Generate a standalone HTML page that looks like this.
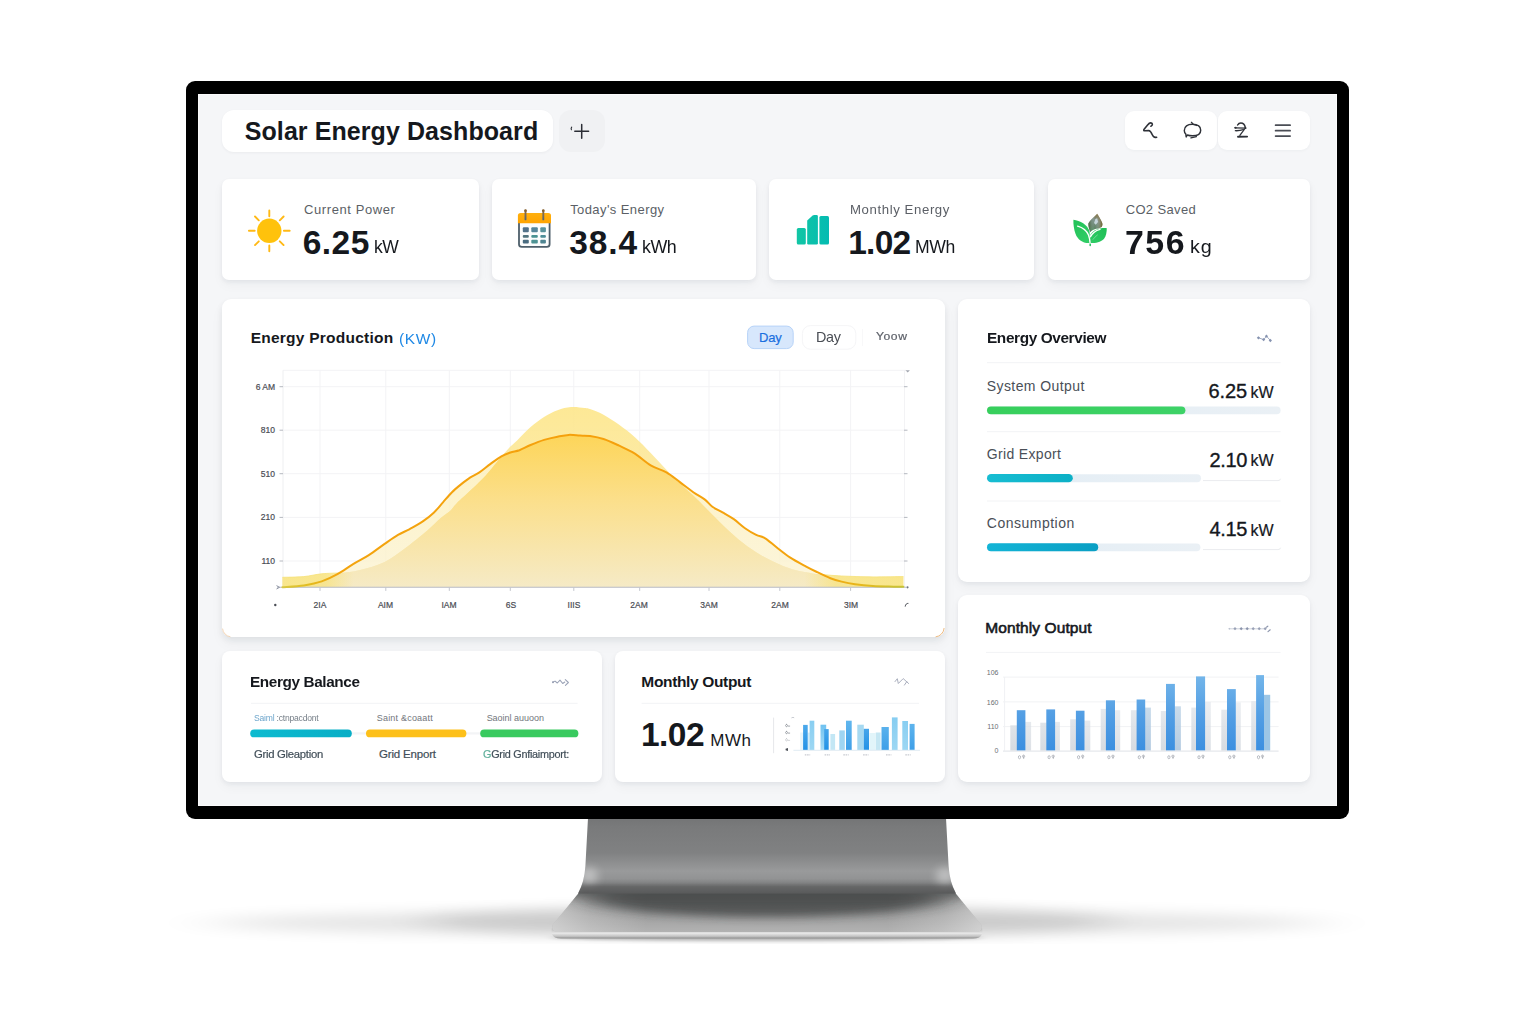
<!DOCTYPE html>
<html lang="en">
<head>
<meta charset="utf-8">
<title>Solar Energy Dashboard</title>
<style>

html,body{margin:0;padding:0;}
body{width:1536px;height:1024px;position:relative;overflow:hidden;background:#ffffff;
  font-family:"Liberation Sans",sans-serif;color:#15181d;}
.abs{position:absolute;}
.bezel{left:186px;top:81px;width:1163px;height:738px;background:#000;border-radius:9px;}
.screen{left:198px;top:94px;width:1139px;height:712px;background:#f5f6f8;box-shadow:0 0 0 1px rgba(255,255,255,.55) inset;}
.card{position:absolute;background:#fff;border-radius:7px;
  box-shadow:0 2px 4px rgba(30,40,60,.06),0 5px 12px rgba(30,40,60,.04);}
.t{position:absolute;white-space:nowrap;line-height:1;}
.b{font-weight:bold;}
.m{-webkit-text-stroke:0.35px currentColor;}
.m2{-webkit-text-stroke:0.6px currentColor;}
.m1{-webkit-text-stroke:0.2px currentColor;}
svg.gfx{position:absolute;left:0;top:0;width:1536px;height:1024px;overflow:visible;}
</style>
</head>
<body>
<svg class="gfx" viewBox="0 0 1536 1024">
<defs>
<filter id="blurA" x="-20%" y="-300%" width="140%" height="700%"><feGaussianBlur stdDeviation="34 7"/></filter>
<filter id="blurA2" x="-20%" y="-300%" width="140%" height="700%"><feGaussianBlur stdDeviation="24 6.5"/></filter>
<filter id="blurB" x="-20%" y="-200%" width="140%" height="500%"><feGaussianBlur stdDeviation="6 1.6"/></filter>
<filter id="blurC" x="-30%" y="-150%" width="160%" height="400%"><feGaussianBlur stdDeviation="18 4.5"/></filter>
<filter id="blurE" x="-10%" y="-150%" width="120%" height="400%"><feGaussianBlur stdDeviation="4 3.5"/></filter>
<filter id="blurD" x="-100%" y="-100%" width="300%" height="300%"><feGaussianBlur stdDeviation="5 5"/></filter>
<linearGradient id="neckG" x1="0" y1="819" x2="0" y2="893.5" gradientUnits="userSpaceOnUse">
<stop offset="0" stop-color="#747576"/><stop offset=".1" stop-color="#797a7b"/><stop offset=".45" stop-color="#808182"/>
<stop offset=".7" stop-color="#999a9b"/><stop offset=".8" stop-color="#929394"/><stop offset=".92" stop-color="#707172"/><stop offset="1" stop-color="#606162"/>
</linearGradient>
<linearGradient id="baseG" x1="0" y1="888" x2="0" y2="932" gradientUnits="userSpaceOnUse">
<stop offset="0" stop-color="#8a8a8a"/><stop offset=".35" stop-color="#929292"/><stop offset=".75" stop-color="#a6a6a6"/><stop offset="1" stop-color="#b2b2b2"/>
</linearGradient>
<linearGradient id="baseS" x1="552" y1="0" x2="982" y2="0" gradientUnits="userSpaceOnUse">
<stop offset="0" stop-color="#fff" stop-opacity=".42"/><stop offset=".09" stop-color="#fff" stop-opacity=".2"/>
<stop offset=".22" stop-color="#fff" stop-opacity="0"/><stop offset=".78" stop-color="#fff" stop-opacity="0"/>
<stop offset=".91" stop-color="#fff" stop-opacity=".2"/><stop offset="1" stop-color="#fff" stop-opacity=".42"/>
</linearGradient>
<linearGradient id="edgeG" x1="0" y1="930" x2="0" y2="938.5" gradientUnits="userSpaceOnUse">
<stop offset="0" stop-color="#c8c8c8"/><stop offset=".4" stop-color="#e6e6e6"/><stop offset=".75" stop-color="#c2c2c2"/><stop offset="1" stop-color="#8c8c8c"/>
</linearGradient>
<clipPath id="flClip"><rect x="0" y="840" width="1536" height="104"/></clipPath>
<clipPath id="baseClip"><path d="M582.5,888.5 L951.5,888.5 L981.5,925 Q983,931.6 976,932 L558,932 Q551,931.6 552.5,925 Z"/></clipPath>
<clipPath id="neckClip"><path d="M588,818 L946,818 L948.6,866 Q949.6,882 956,893.5 L578,893.5 Q584.4,882 585.4,866 Z"/></clipPath>
</defs>
<g clip-path="url(#flClip)"><ellipse cx="767" cy="923" rx="560" ry="13" fill="#000" opacity=".1" filter="url(#blurA)"/>
<ellipse cx="767" cy="921" rx="345" ry="16" fill="#000" opacity=".11" filter="url(#blurA2)"/></g>
<ellipse cx="767" cy="937.5" rx="215" ry="3.5" fill="#000" opacity=".22" filter="url(#blurB)"/>
<path d="M552.5,925 Q551,931.5 552,934 Q553.5,938.5 561,938.5 L973,938.5 Q980.5,938.5 982,934 Q983,931.5 981.5,925 Z" fill="url(#edgeG)"/>
<path d="M582.5,888.5 L951.5,888.5 L981.5,925 Q983,931.6 976,932 L558,932 Q551,931.6 552.5,925 Z" fill="url(#baseG)"/>
<path d="M582.5,888.5 L951.5,888.5 L981.5,925 Q983,931.6 976,932 L558,932 Q551,931.6 552.5,925 Z" fill="url(#baseS)"/>
<g clip-path="url(#baseClip)">
<ellipse cx="767" cy="898" rx="180" ry="19" fill="#2c2d2e" opacity=".62" filter="url(#blurC)"/>
<rect x="560" y="884" width="414" height="13" fill="#4a4b4c" opacity=".7" filter="url(#blurE)"/>
</g>
<path d="M588,818 L946,818 L948.6,866 Q949.6,882 956,893.5 L578,893.5 Q584.4,882 585.4,866 Z" fill="url(#neckG)"/>
<g clip-path="url(#neckClip)">
<ellipse cx="589" cy="876" rx="9" ry="8" fill="#fff" opacity=".42" filter="url(#blurD)"/>
<ellipse cx="945" cy="876" rx="9" ry="8" fill="#fff" opacity=".42" filter="url(#blurD)"/>
<rect x="578" y="885" width="380" height="12" fill="#4e4e4e" opacity=".35" filter="url(#blurB)"/>
</g>
</svg>
<div class="abs bezel"></div>
<div class="abs screen"></div>
<div class="card" style="left:222px;top:110px;width:331px;height:42px;border-radius:12px;box-shadow:0 1px 3px rgba(30,40,60,.05);"></div>
<div class="card" style="left:559px;top:110px;width:46px;height:42px;border-radius:12px;background:#f0f1f3;box-shadow:none;"></div>
<div class="card" style="left:1125px;top:111px;width:91.5px;height:39px;border-radius:9px;box-shadow:0 1px 3px rgba(30,40,60,.04);"></div>
<div class="card" style="left:1218px;top:111px;width:91.5px;height:39px;border-radius:9px;box-shadow:0 1px 3px rgba(30,40,60,.04);"></div>
<div class="card" style="left:222px;top:179px;width:257px;height:101px;"></div>
<div class="card" style="left:492px;top:179px;width:264px;height:101px;"></div>
<div class="card" style="left:769px;top:179px;width:265px;height:101px;"></div>
<div class="card" style="left:1047.5px;top:179px;width:262px;height:101px;"></div>
<div class="card" style="left:222px;top:299px;width:722.6px;height:338.2px;border-radius:9px;box-shadow:0 3px 6px rgba(30,40,60,.075),0 7px 14px rgba(30,40,60,.04);"></div>
<div class="card" style="left:958px;top:298.5px;width:351.5px;height:283.5px;border-radius:9px;"></div>
<div class="card" style="left:958px;top:595px;width:351.5px;height:187px;border-radius:9px;"></div>
<div class="card" style="left:222px;top:651px;width:380px;height:131px;border-radius:8px;"></div>
<div class="card" style="left:615px;top:650.5px;width:329.5px;height:131.5px;border-radius:8px;"></div>
<svg class="gfx" viewBox="0 0 1536 1024">
<g stroke="#f3f3f5" stroke-width="1" fill="none">
<path d="M283,370.3 H906"/>
<path d="M283,386.7 H906"/>
<path d="M283,430.2 H906"/>
<path d="M283,473.7 H906"/>
<path d="M283,517.4 H906"/>
<path d="M283,561 H906"/>
<path d="M320,370.3 V587.3"/>
<path d="M385.8,370.3 V587.3"/>
<path d="M449.3,370.3 V587.3"/>
<path d="M510.3,370.3 V587.3"/>
<path d="M573.8,370.3 V587.3"/>
<path d="M639.7,370.3 V587.3"/>
<path d="M709,370.3 V587.3"/>
<path d="M779.8,370.3 V587.3"/>
<path d="M850.6,370.3 V587.3"/>
<path d="M904.5,370.3 V587.3"/>
<path d="M283,370.3 V587.3" stroke="#eeeff1"/>
</g>
<g stroke="#b6b9c0" stroke-width="1" fill="none">
<path d="M279.5,386.7 h3.5 M904,386.7 h3.5"/>
<path d="M279.5,430.2 h3.5 M904,430.2 h3.5"/>
<path d="M279.5,473.7 h3.5 M904,473.7 h3.5"/>
<path d="M279.5,517.4 h3.5 M904,517.4 h3.5"/>
<path d="M279.5,561 h3.5 M904,561 h3.5"/>
</g>
<defs>
<linearGradient id="gU" x1="0" y1="435" x2="0" y2="587" gradientUnits="userSpaceOnUse"><stop offset="0" stop-color="#fdeeb0"/><stop offset="1" stop-color="#fbf3d4"/></linearGradient>
<linearGradient id="gG" x1="0" y1="407" x2="0" y2="587" gradientUnits="userSpaceOnUse"><stop offset="0" stop-color="#fde68a"/><stop offset=".55" stop-color="#fbe9a5"/><stop offset="1" stop-color="#f9edc0"/></linearGradient>
<linearGradient id="gI" x1="0" y1="435" x2="0" y2="587" gradientUnits="userSpaceOnUse"><stop offset="0" stop-color="#fdd456"/><stop offset=".45" stop-color="#fbdf8c"/><stop offset="1" stop-color="#f5eac6"/></linearGradient>
<linearGradient id="gT" x1="282" y1="0" x2="904" y2="0" gradientUnits="userSpaceOnUse"><stop offset="0" stop-color="#f8df5e" stop-opacity=".55"/><stop offset=".07" stop-color="#f8df5e" stop-opacity=".5"/><stop offset=".115" stop-color="#f8df5e" stop-opacity="0"/><stop offset=".84" stop-color="#f8df5e" stop-opacity="0"/><stop offset=".89" stop-color="#f8df5e" stop-opacity=".5"/><stop offset="1" stop-color="#f8df5e" stop-opacity=".55"/></linearGradient>
<linearGradient id="gL" x1="282" y1="0" x2="904" y2="0" gradientUnits="userSpaceOnUse"><stop offset="0" stop-color="#d9c62e" stop-opacity=".85"/><stop offset=".045" stop-color="#e3bb1e"/><stop offset=".09" stop-color="#f3a40e"/><stop offset=".5" stop-color="#f5a00c"/><stop offset=".87" stop-color="#f3a40e"/><stop offset=".93" stop-color="#e6b81c"/><stop offset="1" stop-color="#c4c22a" stop-opacity=".9"/></linearGradient>
<clipPath id="cU"><path d="M282.4,587.2 C285.9,586.9 297.1,586.4 303.7,585.4 C310.2,584.4 316.1,583.3 321.7,581.4 C327.3,579.5 332.2,577.1 337.4,574.2 C342.6,571.3 347.9,567.3 353.1,564.1 C358.3,560.9 363.6,558.5 368.8,555.1 C374.1,551.7 379.7,547.3 384.6,543.9 C389.5,540.5 393.9,537.3 398,534.9 C402.1,532.5 405.2,531.5 409.3,529.3 C413.4,527 418.7,524.2 422.8,521.4 C426.9,518.6 430.6,515.6 434,512.4 C437.4,509.2 440,505.7 443,502.3 C446,498.9 449,495.2 452,492.2 C455,489.2 458,486.8 461,484.4 C464,482 467,479.6 470,477.6 C473,475.7 475.6,474.9 479,472.7 C482.4,470.4 486.5,466.8 490.2,464.1 C493.9,461.4 498,458.2 501.4,456.3 C504.8,454.4 507.4,453.5 510.4,452.5 C513.4,451.5 516,451.4 519.4,450.2 C522.8,448.9 526.5,446.7 530.6,445 C534.7,443.3 539.6,441.3 544.1,439.9 C548.6,438.5 553.4,437.5 557.5,436.7 C561.6,435.9 565,435.1 568.8,434.9 C572.5,434.7 576.5,435.4 580,435.6 C583.5,435.8 586.1,435.4 590,436 C593.9,436.6 598.6,437.4 603.5,439 C608.4,440.6 614,443.3 619.2,445.7 C624.4,448.1 629.6,450.3 634.9,453.6 C640.1,456.9 645.5,462.2 650.7,465.3 C656,468.4 661.5,469.6 666.4,472.4 C671.3,475.2 675.4,478.8 679.9,482.1 C684.4,485.4 689.2,489.3 693.3,492.2 C697.4,495.1 701.4,497 704.6,499.4 C707.8,501.8 709.4,504.6 712.4,506.8 C715.4,509 718.9,510.3 722.5,512.4 C726.1,514.5 730,516.6 733.8,519.2 C737.5,521.8 741.3,525.6 745,528.2 C748.7,530.8 752.8,533.2 756.2,534.9 C759.6,536.6 761.8,536.2 765.2,538.3 C768.6,540.4 772.4,544.1 776.5,547.3 C780.6,550.5 785,554.2 789.9,557.4 C794.8,560.6 801.2,563.9 805.7,566.3 C810.2,568.7 812.8,570 816.9,572 C821,574 826.3,576.6 830.4,578.2 C834.5,579.8 837.5,580.6 841.6,581.6 C845.7,582.6 849.9,583.5 855.1,584.3 C860.3,585 867.4,585.7 873,586.1 C878.6,586.5 883.7,586.5 888.8,586.6 C893.9,586.7 901,586.8 903.4,586.8 L903.4,587.3 L282.4,587.3 Z"/></clipPath>
</defs>
<path d="M282.4,587.2 C285.9,586.9 297.1,586.4 303.7,585.4 C310.2,584.4 316.1,583.3 321.7,581.4 C327.3,579.5 332.2,577.1 337.4,574.2 C342.6,571.3 347.9,567.3 353.1,564.1 C358.3,560.9 363.6,558.5 368.8,555.1 C374.1,551.7 379.7,547.3 384.6,543.9 C389.5,540.5 393.9,537.3 398,534.9 C402.1,532.5 405.2,531.5 409.3,529.3 C413.4,527 418.7,524.2 422.8,521.4 C426.9,518.6 430.6,515.6 434,512.4 C437.4,509.2 440,505.7 443,502.3 C446,498.9 449,495.2 452,492.2 C455,489.2 458,486.8 461,484.4 C464,482 467,479.6 470,477.6 C473,475.7 475.6,474.9 479,472.7 C482.4,470.4 486.5,466.8 490.2,464.1 C493.9,461.4 498,458.2 501.4,456.3 C504.8,454.4 507.4,453.5 510.4,452.5 C513.4,451.5 516,451.4 519.4,450.2 C522.8,448.9 526.5,446.7 530.6,445 C534.7,443.3 539.6,441.3 544.1,439.9 C548.6,438.5 553.4,437.5 557.5,436.7 C561.6,435.9 565,435.1 568.8,434.9 C572.5,434.7 576.5,435.4 580,435.6 C583.5,435.8 586.1,435.4 590,436 C593.9,436.6 598.6,437.4 603.5,439 C608.4,440.6 614,443.3 619.2,445.7 C624.4,448.1 629.6,450.3 634.9,453.6 C640.1,456.9 645.5,462.2 650.7,465.3 C656,468.4 661.5,469.6 666.4,472.4 C671.3,475.2 675.4,478.8 679.9,482.1 C684.4,485.4 689.2,489.3 693.3,492.2 C697.4,495.1 701.4,497 704.6,499.4 C707.8,501.8 709.4,504.6 712.4,506.8 C715.4,509 718.9,510.3 722.5,512.4 C726.1,514.5 730,516.6 733.8,519.2 C737.5,521.8 741.3,525.6 745,528.2 C748.7,530.8 752.8,533.2 756.2,534.9 C759.6,536.6 761.8,536.2 765.2,538.3 C768.6,540.4 772.4,544.1 776.5,547.3 C780.6,550.5 785,554.2 789.9,557.4 C794.8,560.6 801.2,563.9 805.7,566.3 C810.2,568.7 812.8,570 816.9,572 C821,574 826.3,576.6 830.4,578.2 C834.5,579.8 837.5,580.6 841.6,581.6 C845.7,582.6 849.9,583.5 855.1,584.3 C860.3,585 867.4,585.7 873,586.1 C878.6,586.5 883.7,586.5 888.8,586.6 C893.9,586.7 901,586.8 903.4,586.8 L903.4,587.3 L282.4,587.3 Z" fill="url(#gU)" opacity=".8"/>
<path d="M282.4,577.3 C285.9,577.2 297.1,577.2 303.7,576.6 C310.2,576 315.6,574.4 321.7,573.8 C327.8,573.2 333.6,573.6 340,573 C346.4,572.4 352.6,571.9 360,570 C367.4,568.1 377.1,565.5 384.6,561.9 C392.1,558.3 397.7,553.6 404.8,548.4 C411.9,543.1 421.3,535.5 427.3,530.4 C433.3,525.3 437,521.2 440.7,518 C444.4,514.8 447.1,513.7 449.7,511.3 C452.3,508.9 452.8,507.1 456.5,503.4 C460.2,499.6 467.3,493.5 472.2,488.8 C477.1,484.1 481.6,479.9 485.7,475.4 C489.8,470.9 493.2,466.3 496.9,461.9 C500.6,457.5 504.7,452.5 508.1,448.9 C511.5,445.3 513.4,444.1 517.1,440.5 C520.9,436.9 526.1,431 530.6,427.1 C535.1,423.2 539.5,419.8 544,417 C548.5,414.2 553,411.8 557.5,410.2 C562,408.6 566.5,407.5 571,407.1 C575.5,406.7 581.3,407.7 584.5,408 C587.7,408.3 586.8,408 590,409.1 C593.2,410.2 598.6,412.1 603.5,414.7 C608.4,417.3 614,421.1 619.2,424.8 C624.4,428.6 629.6,432.5 634.9,437.2 C640.1,441.9 645.5,447.5 650.7,452.9 C656,458.3 661.5,464.6 666.4,469.7 C671.3,474.8 675.4,478.9 679.9,483.2 C684.4,487.5 688.8,491.3 693.3,495.6 C697.8,499.9 701.5,503.8 706.8,509 C712,514.2 718.8,521.4 724.8,527 C730.8,532.6 736.8,538.1 742.8,542.8 C748.8,547.5 754.7,551.5 760.7,555.1 C766.7,558.7 773.5,561.8 778.7,564.1 C784,566.5 787.7,567.9 792.2,569.2 C796.8,570.6 801.4,571.4 806,572.2 C810.6,573.1 814.1,573.7 820,574.3 C825.9,574.9 832.8,575.6 841.6,576 C850.4,576.4 862.7,576.8 873,576.9 C883.3,577 898.3,576.6 903.4,576.6 L903.4,587.3 L282.4,587.3 Z" fill="url(#gG)" opacity=".9"/>
<g clip-path="url(#cU)"><path d="M282.4,577.3 C285.9,577.2 297.1,577.2 303.7,576.6 C310.2,576 315.6,574.4 321.7,573.8 C327.8,573.2 333.6,573.6 340,573 C346.4,572.4 352.6,571.9 360,570 C367.4,568.1 377.1,565.5 384.6,561.9 C392.1,558.3 397.7,553.6 404.8,548.4 C411.9,543.1 421.3,535.5 427.3,530.4 C433.3,525.3 437,521.2 440.7,518 C444.4,514.8 447.1,513.7 449.7,511.3 C452.3,508.9 452.8,507.1 456.5,503.4 C460.2,499.6 467.3,493.5 472.2,488.8 C477.1,484.1 481.6,479.9 485.7,475.4 C489.8,470.9 493.2,466.3 496.9,461.9 C500.6,457.5 504.7,452.5 508.1,448.9 C511.5,445.3 513.4,444.1 517.1,440.5 C520.9,436.9 526.1,431 530.6,427.1 C535.1,423.2 539.5,419.8 544,417 C548.5,414.2 553,411.8 557.5,410.2 C562,408.6 566.5,407.5 571,407.1 C575.5,406.7 581.3,407.7 584.5,408 C587.7,408.3 586.8,408 590,409.1 C593.2,410.2 598.6,412.1 603.5,414.7 C608.4,417.3 614,421.1 619.2,424.8 C624.4,428.6 629.6,432.5 634.9,437.2 C640.1,441.9 645.5,447.5 650.7,452.9 C656,458.3 661.5,464.6 666.4,469.7 C671.3,474.8 675.4,478.9 679.9,483.2 C684.4,487.5 688.8,491.3 693.3,495.6 C697.8,499.9 701.5,503.8 706.8,509 C712,514.2 718.8,521.4 724.8,527 C730.8,532.6 736.8,538.1 742.8,542.8 C748.8,547.5 754.7,551.5 760.7,555.1 C766.7,558.7 773.5,561.8 778.7,564.1 C784,566.5 787.7,567.9 792.2,569.2 C796.8,570.6 801.4,571.4 806,572.2 C810.6,573.1 814.1,573.7 820,574.3 C825.9,574.9 832.8,575.6 841.6,576 C850.4,576.4 862.7,576.8 873,576.9 C883.3,577 898.3,576.6 903.4,576.6 L903.4,587.3 L282.4,587.3 Z" fill="url(#gI)" opacity=".95"/></g>
<path d="M282.4,577.3 C285.9,577.2 297.1,577.2 303.7,576.6 C310.2,576 315.6,574.4 321.7,573.8 C327.8,573.2 333.6,573.6 340,573 C346.4,572.4 352.6,571.9 360,570 C367.4,568.1 377.1,565.5 384.6,561.9 C392.1,558.3 397.7,553.6 404.8,548.4 C411.9,543.1 421.3,535.5 427.3,530.4 C433.3,525.3 437,521.2 440.7,518 C444.4,514.8 447.1,513.7 449.7,511.3 C452.3,508.9 452.8,507.1 456.5,503.4 C460.2,499.6 467.3,493.5 472.2,488.8 C477.1,484.1 481.6,479.9 485.7,475.4 C489.8,470.9 493.2,466.3 496.9,461.9 C500.6,457.5 504.7,452.5 508.1,448.9 C511.5,445.3 513.4,444.1 517.1,440.5 C520.9,436.9 526.1,431 530.6,427.1 C535.1,423.2 539.5,419.8 544,417 C548.5,414.2 553,411.8 557.5,410.2 C562,408.6 566.5,407.5 571,407.1 C575.5,406.7 581.3,407.7 584.5,408 C587.7,408.3 586.8,408 590,409.1 C593.2,410.2 598.6,412.1 603.5,414.7 C608.4,417.3 614,421.1 619.2,424.8 C624.4,428.6 629.6,432.5 634.9,437.2 C640.1,441.9 645.5,447.5 650.7,452.9 C656,458.3 661.5,464.6 666.4,469.7 C671.3,474.8 675.4,478.9 679.9,483.2 C684.4,487.5 688.8,491.3 693.3,495.6 C697.8,499.9 701.5,503.8 706.8,509 C712,514.2 718.8,521.4 724.8,527 C730.8,532.6 736.8,538.1 742.8,542.8 C748.8,547.5 754.7,551.5 760.7,555.1 C766.7,558.7 773.5,561.8 778.7,564.1 C784,566.5 787.7,567.9 792.2,569.2 C796.8,570.6 801.4,571.4 806,572.2 C810.6,573.1 814.1,573.7 820,574.3 C825.9,574.9 832.8,575.6 841.6,576 C850.4,576.4 862.7,576.8 873,576.9 C883.3,577 898.3,576.6 903.4,576.6 L903.4,587.3 L282.4,587.3 Z" fill="url(#gT)"/>
<path d="M282.4,577.3 C285.9,577.2 297.1,577.2 303.7,576.6 C310.2,576 315.6,574.4 321.7,573.8 C327.8,573.2 336.9,573.1 340,573" fill="none" stroke="#f6e27a" stroke-width="1" opacity=".8"/>
<path d="M820,574.3 C823.6,574.6 832.8,575.6 841.6,576 C850.4,576.4 862.7,576.8 873,576.9 C883.3,577 898.3,576.6 903.4,576.6" fill="none" stroke="#f6e27a" stroke-width="1" opacity=".8"/>
<path d="M277,587.3 H906" stroke="#b9bdc8" stroke-width="1.1" fill="none"/>
<path d="M276.5,585.6 l3,1.7 l-3,1.7" stroke="#8f95a3" stroke-width="1" fill="none"/>
<path d="M905.5,370.3 l2.2,2.2 l2.2,-2.2 z" fill="#a3a7b0"/>
<circle cx="907.5" cy="587.3" r="1.1" fill="#6f7480"/>
<g stroke="#c3c6cd" stroke-width="1" fill="none">
<path d="M320,587.3 v3.6"/>
<path d="M385.8,587.3 v3.6"/>
<path d="M449.3,587.3 v3.6"/>
<path d="M510.3,587.3 v3.6"/>
<path d="M573.8,587.3 v3.6"/>
<path d="M639.7,587.3 v3.6"/>
<path d="M709,587.3 v3.6"/>
<path d="M779.8,587.3 v3.6"/>
<path d="M850.6,587.3 v3.6"/>
</g>
<path d="M282.4,587.2 C285.9,586.9 297.1,586.4 303.7,585.4 C310.2,584.4 316.1,583.3 321.7,581.4 C327.3,579.5 332.2,577.1 337.4,574.2 C342.6,571.3 347.9,567.3 353.1,564.1 C358.3,560.9 363.6,558.5 368.8,555.1 C374.1,551.7 379.7,547.3 384.6,543.9 C389.5,540.5 393.9,537.3 398,534.9 C402.1,532.5 405.2,531.5 409.3,529.3 C413.4,527 418.7,524.2 422.8,521.4 C426.9,518.6 430.6,515.6 434,512.4 C437.4,509.2 440,505.7 443,502.3 C446,498.9 449,495.2 452,492.2 C455,489.2 458,486.8 461,484.4 C464,482 467,479.6 470,477.6 C473,475.7 475.6,474.9 479,472.7 C482.4,470.4 486.5,466.8 490.2,464.1 C493.9,461.4 498,458.2 501.4,456.3 C504.8,454.4 507.4,453.5 510.4,452.5 C513.4,451.5 516,451.4 519.4,450.2 C522.8,448.9 526.5,446.7 530.6,445 C534.7,443.3 539.6,441.3 544.1,439.9 C548.6,438.5 553.4,437.5 557.5,436.7 C561.6,435.9 565,435.1 568.8,434.9 C572.5,434.7 576.5,435.4 580,435.6 C583.5,435.8 586.1,435.4 590,436 C593.9,436.6 598.6,437.4 603.5,439 C608.4,440.6 614,443.3 619.2,445.7 C624.4,448.1 629.6,450.3 634.9,453.6 C640.1,456.9 645.5,462.2 650.7,465.3 C656,468.4 661.5,469.6 666.4,472.4 C671.3,475.2 675.4,478.8 679.9,482.1 C684.4,485.4 689.2,489.3 693.3,492.2 C697.4,495.1 701.4,497 704.6,499.4 C707.8,501.8 709.4,504.6 712.4,506.8 C715.4,509 718.9,510.3 722.5,512.4 C726.1,514.5 730,516.6 733.8,519.2 C737.5,521.8 741.3,525.6 745,528.2 C748.7,530.8 752.8,533.2 756.2,534.9 C759.6,536.6 761.8,536.2 765.2,538.3 C768.6,540.4 772.4,544.1 776.5,547.3 C780.6,550.5 785,554.2 789.9,557.4 C794.8,560.6 801.2,563.9 805.7,566.3 C810.2,568.7 812.8,570 816.9,572 C821,574 826.3,576.6 830.4,578.2 C834.5,579.8 837.5,580.6 841.6,581.6 C845.7,582.6 849.9,583.5 855.1,584.3 C860.3,585 867.4,585.7 873,586.1 C878.6,586.5 883.7,586.5 888.8,586.6 C893.9,586.7 901,586.8 903.4,586.8" fill="none" stroke="url(#gL)" stroke-width="2" stroke-linejoin="round" stroke-linecap="round"/>
<circle cx="275.3" cy="605" r="1.2" fill="#4a4d55"/>
<path d="M905.2,606.6 c.3,-2.2 1.4,-3.4 3.2,-3.2" stroke="#4a4d55" stroke-width="1" fill="none"/>
<path d="M944.1,628.4 A9,9 0 0 1 936,636.8" fill="none" stroke="#e9a55a" stroke-width="1" stroke-linecap="round" opacity=".75"/>
<path d="M222.6,629 A8.6,8.6 0 0 0 230,636.7" fill="none" stroke="#eeb273" stroke-width="1" stroke-linecap="round" opacity=".5"/>
<rect x="747.6" y="326.1" width="45.6" height="22.5" rx="6.5" fill="#d7e7fc" stroke="#b7d3f8" stroke-width="1"/>
<rect x="802.4" y="325.6" width="53.4" height="23.6" rx="8" fill="none" stroke="#f5f5f7" stroke-width="1"/>
<path d="M862.4,329 V346" stroke="#f8f8f9" stroke-width="1"/>
<g stroke="#2b2e35" stroke-width="1.5" stroke-linecap="round" fill="none"><path d="M574.8,131.3 H588.6 M581.7,124.6 V138.2"/><path d="M571.7,127.2 q-1,1.2 -.3,2.6" stroke-width="1.1"/></g>
<g stroke="#2e3138" stroke-width="1.6" stroke-linecap="round" stroke-linejoin="round" fill="none">
<path d="M1150.9,126.2 C1152.9,125.4 1152.9,123.2 1150.8,122.9 C1149.6,122.8 1148.6,123.8 1147.6,125 L1143.9,129.6 Q1143.4,130.9 1144.7,130.8 L1148.6,130.5 C1150.6,130.6 1151.4,132.6 1152.3,134.8 C1153,136.6 1154.3,137.9 1156.6,137.2"/>
<path d="M1184.3,130.4 C1184.3,126.4 1187.6,124.3 1192.2,124.3 C1197.4,124.3 1200.7,126.6 1200.7,130.2 C1200.7,133.8 1197.4,135.8 1192.6,135.8 C1190.4,135.8 1188.6,135.5 1187.4,135 L1186.2,137 L1185.8,134 C1184.8,133 1184.3,131.8 1184.3,130.4 Z" stroke-width="1.45"/>
<path d="M1191.4,122.3 L1193.4,124.4 L1196.8,125.5 M1190.9,137.9 L1196.4,136.7" stroke-width="1.25"/>
<path d="M1237.6,125 C1238.4,123.6 1239.4,122.9 1240.8,122.9 C1243.2,122.9 1244.8,124.8 1245.2,127.2" stroke-width="1.5"/>
<path d="M1234.8,127.8 L1245.8,128.1 M1235.4,130.7 C1238,130.8 1241,130.4 1243.4,129.6" stroke-width="1.35"/>
<path d="M1244.6,129 C1243,131.4 1241.2,133.4 1239.9,135.4" stroke-width="1.3"/>
<path d="M1238,136.8 L1247.1,136.6" stroke-width="1.9"/>
<circle cx="1235.7" cy="127.8" r="1" fill="#2e3138" stroke="none"/><circle cx="1245.4" cy="127.9" r="1" fill="#2e3138" stroke="none"/>
</g>
<g stroke="#4a4d55" stroke-width="1.75" stroke-linecap="round" fill="none"><path d="M1275.6,125.2 H1290.1 M1275.6,130.7 H1290.1 M1275.6,136.1 H1290.1"/></g>
<circle cx="269.3" cy="230.8" r="12.2" fill="#ffc20c"/>
<path d="M269.3,216.2 L269.3,210.4 M279.8,220.3 L283.6,216.5 M283.9,230.8 L289.7,230.8 M279.8,241.3 L283.6,245.1 M269.3,245.4 L269.3,251.2 M258.8,241.3 L255,245.1 M254.7,230.8 L248.9,230.8 M258.8,220.3 L255,216.5" stroke="#ffb916" stroke-width="1.9" stroke-linecap="round" fill="none"/>
<defs><linearGradient id="calO" x1="0" y1="212" x2="0" y2="224" gradientUnits="userSpaceOnUse"><stop offset="0" stop-color="#ffb10f"/><stop offset="1" stop-color="#ffa300"/></linearGradient><linearGradient id="calR" x1="0" y1="210" x2="0" y2="220" gradientUnits="userSpaceOnUse"><stop offset="0" stop-color="#8a6330"/><stop offset=".45" stop-color="#7d6a52"/><stop offset="1" stop-color="#4f647c"/></linearGradient></defs>
<path d="M519,221 V244.2 Q519,246.8 521.8,246.8 H546.8 Q549.6,246.8 549.6,244.2 V221 Z" fill="#fcfdfd" stroke="#4e5f6b" stroke-width="1.8"/>
<path d="M517.9,223.3 V215.6 Q517.9,212.9 520.6,212.9 H548.3 Q551,212.9 551,215.6 V223.3 Z" fill="url(#calO)"/>
<path d="M525.5,210.6 V219.4 M543.3,210.6 V219.4" stroke="url(#calR)" stroke-width="1.9" stroke-linecap="round"/>
<circle cx="525.5" cy="210.7" r="1.35" fill="#86602e"/><circle cx="543.3" cy="210.7" r="1.35" fill="#86602e"/>
<rect x="522.8" y="227.2" width="6" height="5" rx="1" fill="#52728a"/><rect x="531.3" y="227.2" width="6.5" height="5" rx="1" fill="#56869a"/><rect x="540.3" y="227.2" width="5.6" height="5" rx="1" fill="#5a939c"/><rect x="522.8" y="235" width="6" height="2.8" rx="1" fill="#52747f"/><rect x="531.3" y="235" width="6.5" height="2.8" rx="1" fill="#4a9292"/><rect x="540.3" y="235" width="5.6" height="2.8" rx="1" fill="#4f8e98"/><rect x="522.8" y="239.7" width="6" height="3.8" rx="1" fill="#4a6c80"/><rect x="531.3" y="239.7" width="6.5" height="3.8" rx="1" fill="#4e9394"/><rect x="540.3" y="239.7" width="5.6" height="3.8" rx="1" fill="#4f8592"/>
<defs><linearGradient id="barI" x1="796" y1="0" x2="829" y2="0" gradientUnits="userSpaceOnUse"><stop offset="0" stop-color="#12c6a4"/><stop offset="1" stop-color="#04bbb2"/></linearGradient></defs>
<g fill="url(#barI)"><rect x="796.8" y="228" width="9" height="16.5" rx="1.5"/><path d="M807.2,243.3 V220.4 L812.6,215.6 Q813.2,215.1 814.2,215.1 H816.6 Q817.9,215.1 817.9,216.4 V243.3 Q817.9,244.5 816.6,244.5 H808.4 Q807.2,244.5 807.2,243.3 Z"/><rect x="819.4" y="215.9" width="9.6" height="28.6" rx="1.5"/></g>
<defs><linearGradient id="lfA" x1="1073" y1="220" x2="1092" y2="244" gradientUnits="userSpaceOnUse"><stop offset="0" stop-color="#22c158"/><stop offset="1" stop-color="#33cf68"/></linearGradient><linearGradient id="lfB" x1="1107" y1="228" x2="1090" y2="244" gradientUnits="userSpaceOnUse"><stop offset="0" stop-color="#1fbe55"/><stop offset="1" stop-color="#2fcc66"/></linearGradient><linearGradient id="lfC" x1="1090" y1="232" x2="1099" y2="214" gradientUnits="userSpaceOnUse"><stop offset="0" stop-color="#3f9a55"/><stop offset=".3" stop-color="#5f8264"/><stop offset=".65" stop-color="#7f9088"/><stop offset="1" stop-color="#7a5c1c"/></linearGradient><linearGradient id="lfD" x1="1089" y1="0" x2="1102.5" y2="0" gradientUnits="userSpaceOnUse"><stop offset="0" stop-color="#4c5f3e" stop-opacity=".7"/><stop offset=".45" stop-color="#b9cfe0" stop-opacity=".0"/><stop offset="1" stop-color="#6e5a1c" stop-opacity=".95"/></linearGradient></defs>
<path d="M1097.2,213.8 C1094,216.8 1089.6,220.6 1088.4,223.6 C1088.2,226.4 1089.4,229.8 1090.2,232 C1092.4,229.8 1095.4,228.7 1098.4,228.5 L1101.6,226.9 C1102.7,225.4 1102.5,223.6 1102,222.6 C1100.8,219.6 1098.8,216.4 1097.2,213.8 Z" fill="url(#lfC)"/><path d="M1097.2,213.8 C1094,216.8 1089.6,220.6 1088.4,223.6 C1088.2,226.4 1089.4,229.8 1090.2,232 C1092.4,229.8 1095.4,228.7 1098.4,228.5 L1101.6,226.9 C1102.7,225.4 1102.5,223.6 1102,222.6 C1100.8,219.6 1098.8,216.4 1097.2,213.8 Z" fill="url(#lfD)"/>
<path d="M1095.4,219 L1097.2,218.2 L1098,222 L1095.8,224.8 L1094,223 Z" fill="#d4e3ee" opacity=".8"/>
<path d="M1073.4,219.7 C1080,220.6 1087.6,224.4 1089.6,231.4 L1090,243 C1083,243.6 1077.6,239.6 1075.6,234 C1074,229.6 1073.2,224.6 1073.4,219.7 Z" fill="url(#lfA)"/>
<path d="M1106.8,228.2 C1100,227.6 1093.4,229.8 1090.6,234.6 L1090.8,243 C1097,243.4 1102,241.6 1104.2,238.6 C1106,236 1106.8,232 1106.8,228.2 Z" fill="url(#lfB)"/>
<path d="M1090.2,245.4 V237" stroke="#27c05c" stroke-width="1.5" stroke-linecap="round"/>
<path d="M1077.6,226.2 C1082,227.4 1086.3,230 1088.5,235 C1089.5,237.6 1089.9,240.6 1090.1,243.4 M1090.5,236.8 C1092.2,233.2 1095.6,230.6 1100,229.4" stroke="#ffffff" stroke-width="1.35" fill="none" stroke-linecap="round"/>
<path d="M1093,239.4 C1094.2,237.8 1095.8,236.2 1097.4,235" stroke="#ffffff" stroke-width=".6" fill="none" stroke-linecap="round" opacity=".55"/>
<path d="M1258.5,337.8 L1263.7,339.6 L1266.5,336.2 L1270.4,340.5" stroke="#a3adc3" stroke-width="1" fill="none" stroke-linejoin="round"/>
<rect x="1257.3" y="336.7" width="2.3" height="2.3" fill="#8693b0" transform="rotate(45 1258.5 337.8)"/>
<rect x="1262.5" y="338.5" width="2.3" height="2.3" fill="#8693b0" transform="rotate(45 1263.7 339.6)"/>
<rect x="1265.3" y="335.1" width="2.3" height="2.3" fill="#8693b0" transform="rotate(45 1266.5 336.2)"/>
<rect x="1269.2" y="339.4" width="2.3" height="2.3" fill="#8693b0" transform="rotate(45 1270.4 340.5)"/>
<g stroke="#9aa2b6" stroke-width="1.05" stroke-linecap="round" stroke-linejoin="round" fill="none">
<path d="M552.6,682.3 l2.4,-1.2 l2.3,1.9 l2.7,-2.9 l2.7,3.4 l2.1,-1.5 M565.3,679.6 l3.1,2.9 l-3,2.9"/>
<circle cx="553" cy="682.2" r="1" fill="#9aa2b6" stroke="none"/>
</g>
<g stroke="#a5abbb" stroke-width=".95" stroke-linecap="round" stroke-linejoin="round" fill="none">
<path d="M895,681.6 L897.3,678.7 L898.3,683.5 L903.2,678.6 L908.6,683.5 M906.8,681.6 L904.4,685.1"/>
</g>
<path d="M1229,628.8 H1266" stroke="#c3c8d4" stroke-width=".8"/>
<rect x="1228.5" y="628" width="1.5" height="1.5" fill="#b9bfcd" transform="rotate(45 1229.3 628.8)"/>
<rect x="1233.8" y="627.6" width="2.3" height="2.3" fill="#99a1b6" transform="rotate(45 1235 628.8)"/>
<rect x="1240" y="627.6" width="2.3" height="2.3" fill="#8b94ac" transform="rotate(45 1241.2 628.8)"/>
<rect x="1246" y="627.6" width="2.3" height="2.3" fill="#8b94ac" transform="rotate(45 1247.2 628.8)"/>
<rect x="1252" y="627.6" width="2.3" height="2.3" fill="#99a1b6" transform="rotate(45 1253.2 628.8)"/>
<rect x="1258" y="627.6" width="2.3" height="2.3" fill="#99a1b6" transform="rotate(45 1259.2 628.8)"/>
<rect x="1264" y="627.6" width="2.3" height="2.3" fill="#99a1b6" transform="rotate(45 1265.2 628.8)"/>
<path d="M1266.4,627.2 l1.4,-1 M1268,631.6 l2.2,-1.8" stroke="#8d96ad" stroke-width="1.2" stroke-linecap="round" fill="none"/>
<g stroke="#f2f3f5" stroke-width="1" fill="none">
<path d="M987,362.7 H1280.6 M987,431.7 H1280.6 M987,501 H1280.6"/>
<path d="M986,652.4 H1280.6"/>
<path d="M251,703.3 H577.6 M641.6,703.3 H919"/>
<path d="M773.6,717.6 V753.2" stroke="#e6e7eb"/>
</g>
<defs><linearGradient id="pg1" x1="0" x2="1"><stop offset="0" stop-color="#37cf5c"/><stop offset="1" stop-color="#3dd267"/></linearGradient><linearGradient id="pg2" x1="0" x2="1"><stop offset="0" stop-color="#17bdd2"/><stop offset="1" stop-color="#0cb0c6"/></linearGradient><linearGradient id="pg3" x1="0" x2="1"><stop offset="0" stop-color="#13b4d6"/><stop offset="1" stop-color="#0a9fc4"/></linearGradient><linearGradient id="pgc" x1="0" x2="1"><stop offset="0" stop-color="#0dbbd0"/><stop offset="1" stop-color="#08aec6"/></linearGradient><linearGradient id="trk" x1="0" x2="1"><stop offset="0" stop-color="#e2edf5"/><stop offset="1" stop-color="#eaf0f5"/></linearGradient></defs>
<rect x="987" y="406.6" width="293.6" height="7.6" rx="3.8" fill="url(#trk)"/>
<rect x="987" y="406.4" width="198.4" height="7.9" rx="4" fill="url(#pg1)"/>
<rect x="987" y="474.2" width="214" height="8" rx="4" fill="url(#trk)"/>
<rect x="987" y="474" width="85.8" height="8.3" rx="4.2" fill="url(#pg2)"/>
<rect x="987" y="543.4" width="213.4" height="7.8" rx="3.9" fill="url(#trk)"/>
<rect x="987" y="543.2" width="111.2" height="8.1" rx="4" fill="url(#pg3)"/>
<path d="M1203,480.6 H1278 q2.4,0 2.4,-1.8 M1203,549.6 H1278 q2.4,0 2.4,-1.8" stroke="#eaecef" stroke-width="1" fill="none"/>
<path d="M252,733.4 H577" stroke="#f3f4f6" stroke-width="2.2"/>
<rect x="250.2" y="729.5" width="101.6" height="7.8" rx="3.9" fill="url(#pgc)"/>
<rect x="366" y="729.5" width="100.4" height="7.8" rx="3.9" fill="#fdc01a"/>
<rect x="480.2" y="729.5" width="98.2" height="7.8" rx="3.9" fill="#39ca5f"/>
<g stroke="#f1f2f4" stroke-width="1" fill="none"><path d="M1003,677.1 H1278.6 M1003,701.9 H1278.6 M1003,726.6 H1278.6"/><path d="M1004.6,677.1 V750.6" stroke="#f0f1f4"/></g>
<defs><linearGradient id="bb" x1="0" y1="675" x2="0" y2="751" gradientUnits="userSpaceOnUse"><stop offset="0" stop-color="#74b6ea"/><stop offset=".5" stop-color="#549fe4"/><stop offset="1" stop-color="#3b8fe0"/></linearGradient><linearGradient id="bg" x1="0" y1="690" x2="0" y2="751" gradientUnits="userSpaceOnUse"><stop offset="0" stop-color="#e9ecf0"/><stop offset="1" stop-color="#cfd5dc"/></linearGradient><linearGradient id="bl" x1="0" y1="690" x2="0" y2="751" gradientUnits="userSpaceOnUse"><stop offset="0" stop-color="#c9dcec"/><stop offset="1" stop-color="#a9c3dc"/></linearGradient></defs>
<rect x="1010.3" y="725.3" width="6.9" height="25.3" fill="url(#bg)" opacity=".85"/>
<rect x="1025.1" y="721.9" width="6" height="28.7" fill="url(#bg)" opacity=".7"/>
<rect x="1016.8" y="710.2" width="8.6" height="40.4" fill="url(#bb)"/>
<rect x="1040.3" y="722.7" width="6.4" height="27.9" fill="url(#bg)" opacity=".85"/>
<rect x="1054.8" y="721.9" width="5.1" height="28.7" fill="url(#bg)" opacity=".7"/>
<rect x="1046.3" y="709.4" width="8.8" height="41.2" fill="url(#bb)"/>
<rect x="1070.2" y="719.3" width="6.1" height="31.3" fill="url(#bg)" opacity=".85"/>
<rect x="1084.2" y="720.6" width="6.1" height="30" fill="url(#bg)" opacity=".7"/>
<rect x="1075.9" y="710.7" width="8.6" height="39.9" fill="url(#bb)"/>
<rect x="1100.7" y="708.9" width="5.6" height="41.7" fill="url(#bg)" opacity=".85"/>
<rect x="1114.7" y="710.2" width="5.5" height="40.4" fill="url(#bg)" opacity=".7"/>
<rect x="1105.9" y="700.3" width="9.1" height="50.3" fill="url(#bb)"/>
<rect x="1130.9" y="710.2" width="6.1" height="40.4" fill="url(#bg)" opacity=".85"/>
<rect x="1144.9" y="707.6" width="6" height="43" fill="url(#bl)" opacity=".85"/>
<rect x="1136.6" y="699.5" width="8.6" height="51.1" fill="url(#bb)"/>
<rect x="1160.8" y="711" width="5.6" height="39.6" fill="url(#bg)" opacity=".85"/>
<rect x="1174.6" y="706.3" width="6.3" height="44.3" fill="url(#bl)" opacity=".85"/>
<rect x="1166" y="683.9" width="8.9" height="66.7" fill="url(#bb)"/>
<rect x="1191.3" y="707.6" width="5.1" height="43" fill="url(#bg)" opacity=".85"/>
<rect x="1204.8" y="701.9" width="6" height="48.7" fill="url(#bg)" opacity=".7"/>
<rect x="1196" y="676.4" width="9.1" height="74.2" fill="url(#bb)"/>
<rect x="1221.3" y="709.7" width="6.1" height="40.9" fill="url(#bg)" opacity=".85"/>
<rect x="1235.5" y="702.4" width="5.3" height="48.2" fill="url(#bg)" opacity=".7"/>
<rect x="1227" y="689.1" width="8.8" height="61.5" fill="url(#bb)"/>
<rect x="1251.2" y="701.1" width="5.3" height="49.5" fill="url(#bg)" opacity=".85"/>
<rect x="1263.7" y="694.8" width="6.5" height="55.8" fill="#9cc6e6"/>
<rect x="1256.1" y="675.1" width="7.9" height="75.5" fill="url(#bb)"/>
<path d="M1003,751.1 H1278.6" stroke="#dfe2e7" stroke-width="1" fill="none"/>
<g fill="none" stroke="#a4a8b0" stroke-width=".75"><ellipse cx="1019.5" cy="757.2" rx="1.1" ry="1.6"/><path d="M1023.7,755.4 v3.5 M1023.6,757.6 a1.1,1.3 0 1 0 -.1,0"/></g>
<g fill="none" stroke="#a4a8b0" stroke-width=".75"><ellipse cx="1049.1" cy="757.2" rx="1.1" ry="1.6"/><path d="M1053.3,755.4 v3.5 M1053.2,757.6 a1.1,1.3 0 1 0 -.1,0"/></g>
<g fill="none" stroke="#a4a8b0" stroke-width=".75"><ellipse cx="1078.6" cy="757.2" rx="1.1" ry="1.6"/><path d="M1082.8,755.4 v3.5 M1082.7,757.6 a1.1,1.3 0 1 0 -.1,0"/></g>
<g fill="none" stroke="#a4a8b0" stroke-width=".75"><ellipse cx="1108.9" cy="757.2" rx="1.1" ry="1.6"/><path d="M1113,755.4 v3.5 M1113,757.6 a1.1,1.3 0 1 0 -.1,0"/></g>
<g fill="none" stroke="#a4a8b0" stroke-width=".75"><ellipse cx="1139.3" cy="757.2" rx="1.1" ry="1.6"/><path d="M1143.5,755.4 v3.5 M1143.4,757.6 a1.1,1.3 0 1 0 -.1,0"/></g>
<g fill="none" stroke="#a4a8b0" stroke-width=".75"><ellipse cx="1168.9" cy="757.2" rx="1.1" ry="1.6"/><path d="M1173,755.4 v3.5 M1173,757.6 a1.1,1.3 0 1 0 -.1,0"/></g>
<g fill="none" stroke="#a4a8b0" stroke-width=".75"><ellipse cx="1199" cy="757.2" rx="1.1" ry="1.6"/><path d="M1203.1,755.4 v3.5 M1203,757.6 a1.1,1.3 0 1 0 -.1,0"/></g>
<g fill="none" stroke="#a4a8b0" stroke-width=".75"><ellipse cx="1229.8" cy="757.2" rx="1.1" ry="1.6"/><path d="M1234,755.4 v3.5 M1233.9,757.6 a1.1,1.3 0 1 0 -.1,0"/></g>
<g fill="none" stroke="#a4a8b0" stroke-width=".75"><ellipse cx="1258.5" cy="757.2" rx="1.1" ry="1.6"/><path d="M1262.6,755.4 v3.5 M1262.5,757.6 a1.1,1.3 0 1 0 -.1,0"/></g>
<defs><linearGradient id="mb1" x1="0" y1="724" x2="0" y2="750" gradientUnits="userSpaceOnUse"><stop offset="0" stop-color="#4eaaeb"/><stop offset="1" stop-color="#2392e6"/></linearGradient><linearGradient id="mb2" x1="0" y1="720" x2="0" y2="750" gradientUnits="userSpaceOnUse"><stop offset="0" stop-color="#62b7ee"/><stop offset="1" stop-color="#3e9fe8"/></linearGradient><linearGradient id="mb3" x1="0" y1="717" x2="0" y2="750" gradientUnits="userSpaceOnUse"><stop offset="0" stop-color="#86cdf1"/><stop offset="1" stop-color="#9dd7f3"/></linearGradient><linearGradient id="mb4" x1="0" y1="724" x2="0" y2="750" gradientUnits="userSpaceOnUse"><stop offset="0" stop-color="#6ec1f0"/><stop offset="1" stop-color="#a9dcf5"/></linearGradient></defs>
<rect x="800.2" y="732.5" width="3.1" height="17.5" fill="#e8f5fb"/>
<rect x="807.7" y="732.6" width="2.1" height="17.4" fill="#d3ecf8"/>
<rect x="803.1" y="724.9" width="4.6" height="25.1" fill="url(#mb1)"/>
<rect x="809.6" y="720.7" width="4.7" height="29.3" fill="url(#mb3)"/>
<rect x="820.5" y="724.7" width="5.7" height="25.3" fill="url(#mb4)"/>
<rect x="824.2" y="729.1" width="4.5" height="20.8" fill="url(#mb1)"/>
<rect x="830.4" y="734" width="4.7" height="15.9" fill="#c3e7f5"/>
<rect x="839.3" y="730.4" width="5.5" height="19.6" fill="#9fd5f2"/>
<rect x="846" y="720.7" width="5.7" height="29.3" fill="url(#mb2)"/>
<rect x="857.3" y="724.7" width="6.5" height="25.3" fill="#a6d9f1"/>
<rect x="863.8" y="728.8" width="5.2" height="21.1" fill="url(#mb1)"/>
<rect x="869.5" y="733" width="5.9" height="17" fill="#e2f5fa"/>
<rect x="875.7" y="732.5" width="4.9" height="17.5" fill="#c6e7f3"/>
<rect x="881.5" y="727" width="7.3" height="23" fill="url(#mb2)"/>
<rect x="891.9" y="717.4" width="5.7" height="32.6" fill="url(#mb3)"/>
<rect x="902.3" y="721" width="5.7" height="29" fill="url(#mb3)"/>
<rect x="909.6" y="723.9" width="5" height="26" fill="url(#mb2)"/>
<path d="M793.4,750.3 H920" stroke="#dde9f2" stroke-width=".9" fill="none"/>
<g fill="none" stroke="#7d828b" stroke-width=".7" stroke-linecap="round">
<path d="M786.5,724.3 a1,1.2 0 1 0 .1,0 M788.3,726.1 h1.4" opacity="1"/>
<path d="M786.5,731.3 a1,1.2 0 1 0 .1,0 M788.3,733.1 h1.4" opacity="1"/>
<path d="M786.5,738.6 a1,1.2 0 1 0 .1,0 M788.3,740.4 h1.4" opacity="0.45"/>
</g>
<path d="M785.6,748.8 l2.4,-.9 v3.2 l-2.4,-.9 z" fill="#4d5158"/>
<path d="M791.4,717.9 l1.6,-.6 l1.2,.5" fill="none" stroke="#a5aab3" stroke-width=".6"/>
<g stroke="#b2b6be" stroke-width=".9" fill="none">
<path d="M804.8,754.9 h5.4" stroke-dasharray="1.6 .7"/>
<path d="M824.6,754.9 h5.4" stroke-dasharray="1.6 .7"/>
<path d="M843.3,754.9 h5.4" stroke-dasharray="1.6 .7"/>
<path d="M863.1,754.9 h5.4" stroke-dasharray="1.6 .7"/>
<path d="M886,754.9 h5.4" stroke-dasharray="1.6 .7"/>
<path d="M905.3,754.9 h5.4" stroke-dasharray="1.6 .7"/>
</g>
</svg>
<div class="t b" style="top:118.94px;font-size:25px;color:#15181d;letter-spacing:0.08px;left:244.75px;">Solar Energy Dashboard</div>
<div class="t" style="top:203.10px;font-size:13px;color:#5b5f66;letter-spacing:0.585px;left:304.05px;">Current Power</div>
<div class="t" style="top:203.10px;font-size:13px;color:#5b5f66;letter-spacing:0.417px;left:570.15px;">Today's Energy</div>
<div class="t" style="top:203.10px;font-size:13px;color:#5b5f66;letter-spacing:0.585px;left:849.55px;transform-origin:0 50%;transform:scaleX(1.015);">Monthly Energy</div>
<div class="t" style="top:203.10px;font-size:13px;color:#5b5f66;letter-spacing:0.363px;left:1125.65px;">CO2 Saved</div>
<div class="t b" style="top:225.84px;font-size:33.5px;color:#15181d;letter-spacing:0.481px;left:302.625px;">6.25</div>
<div class="t b" style="top:225.84px;font-size:33.5px;color:#15181d;letter-spacing:0.915px;left:569.125px;">38.4</div>
<div class="t b" style="top:225.84px;font-size:33.5px;color:#15181d;letter-spacing:-0.719px;left:848.125px;">1.02</div>
<div class="t b" style="top:225.84px;font-size:33.5px;color:#15181d;letter-spacing:1.507px;left:1125.23px;transform-origin:0 50%;transform:scaleX(1.0106);">756</div>
<div class="t" style="top:238.46px;font-size:18.6px;color:#15181d;letter-spacing:-0.465px;left:374.47px;transform-origin:0 50%;transform:scaleX(0.9427);">kW</div>
<div class="t" style="top:238.46px;font-size:18.6px;color:#15181d;letter-spacing:-0.465px;left:642.17px;transform-origin:0 50%;transform:scaleX(0.9593);">kWh</div>
<div class="t" style="top:238.46px;font-size:18.6px;color:#15181d;letter-spacing:-0.465px;left:915.37px;transform-origin:0 50%;transform:scaleX(0.9463);">MWh</div>
<div class="t" style="top:238.46px;font-size:18.6px;color:#15181d;letter-spacing:0.837px;left:1189.87px;transform-origin:0 50%;transform:scaleX(1.0588);">kg</div>
<div class="t b" style="top:330.08px;font-size:15.5px;color:#15181d;letter-spacing:0.241px;left:250.625px;">Energy Production</div>
<div class="t" style="top:330.50px;font-size:15px;color:#1e88e5;letter-spacing:0.675px;left:398.55px;transform-origin:0 50%;transform:scaleX(1.0302);">(KW)</div>
<div class="t m1" style="top:331.10px;font-size:13px;color:#1a6fe0;letter-spacing:-0.26px;left:759.05px;">Day</div>
<div class="t" style="top:330.33px;font-size:14.5px;color:#4a4e55;letter-spacing:-0.363px;left:815.975px;transform-origin:0 50%;transform:scaleX(0.9905);">Day</div>
<div class="t m1" style="top:331.49px;font-size:11px;color:#5e626a;letter-spacing:0.495px;left:875.55px;transform-origin:0 50%;transform:scaleX(1.1048);">Yoow</div>
<div class="t m1" style="top:382.60px;font-size:8.5px;color:#4a4d54;right:1261px;">6 AM</div>
<div class="t m1" style="top:426.10px;font-size:8.5px;color:#4a4d54;right:1261px;">810</div>
<div class="t m1" style="top:469.60px;font-size:8.5px;color:#4a4d54;right:1261px;">510</div>
<div class="t m1" style="top:513.30px;font-size:8.5px;color:#4a4d54;right:1261px;">210</div>
<div class="t m1" style="top:556.90px;font-size:8.5px;color:#4a4d54;right:1261px;">110</div>
<div class="t m1" style="top:601.00px;font-size:8.5px;color:#4a4d54;left:320px;transform:translateX(-50%);">2IA</div>
<div class="t m1" style="top:601.00px;font-size:8.5px;color:#4a4d54;left:385.5px;transform:translateX(-50%);">AIM</div>
<div class="t m1" style="top:601.00px;font-size:8.5px;color:#4a4d54;left:449px;transform:translateX(-50%);">IAM</div>
<div class="t m1" style="top:601.00px;font-size:8.5px;color:#4a4d54;left:511px;transform:translateX(-50%);">6S</div>
<div class="t m1" style="top:601.00px;font-size:8.5px;color:#4a4d54;left:574px;transform:translateX(-50%);">IIIS</div>
<div class="t m1" style="top:601.00px;font-size:8.5px;color:#4a4d54;left:639px;transform:translateX(-50%);">2AM</div>
<div class="t m1" style="top:601.00px;font-size:8.5px;color:#4a4d54;left:709px;transform:translateX(-50%);">3AM</div>
<div class="t m1" style="top:601.00px;font-size:8.5px;color:#4a4d54;left:780px;transform:translateX(-50%);">2AM</div>
<div class="t m1" style="top:601.00px;font-size:8.5px;color:#4a4d54;left:851px;transform:translateX(-50%);">3IM</div>
<div class="t b" style="top:330.48px;font-size:15.5px;color:#15181d;letter-spacing:-0.388px;left:986.725px;transform-origin:0 50%;transform:scaleX(0.9921);">Energy Overview</div>
<div class="t" style="top:378.65px;font-size:14px;color:#4a4f57;letter-spacing:0.408px;left:986.8px;">System Output</div>
<div class="t" style="top:446.85px;font-size:14px;color:#4a4f57;letter-spacing:0.338px;left:986.8px;">Grid Export</div>
<div class="t" style="top:515.85px;font-size:14px;color:#4a4f57;letter-spacing:0.499px;left:986.8px;">Consumption</div>
<div class="t m" style="top:381.17px;font-size:20px;color:#15181d;letter-spacing:-0.112px;left:1208.5px;">6.25</div>
<div class="t m" style="top:449.57px;font-size:20px;color:#15181d;letter-spacing:-0.346px;left:1209.4px;">2.10</div>
<div class="t m" style="top:519.27px;font-size:20px;color:#15181d;letter-spacing:-0.346px;left:1209.4px;">4.15</div>
<div class="t m1" style="top:384.56px;font-size:16px;color:#15181d;letter-spacing:0.051px;left:1250.5px;">kW</div>
<div class="t m1" style="top:452.96px;font-size:16px;color:#15181d;letter-spacing:0.051px;left:1250.5px;">kW</div>
<div class="t m1" style="top:522.66px;font-size:16px;color:#15181d;letter-spacing:0.051px;left:1250.5px;">kW</div>
<div class="t m2" style="top:620.28px;font-size:15.5px;color:#15181d;letter-spacing:0.085px;left:985.325px;">Monthly Output</div>
<div class="t" style="top:668.67px;font-size:7px;color:#6a6d73;right:537.5px;">106</div>
<div class="t" style="top:698.67px;font-size:7px;color:#6a6d73;right:537.5px;">160</div>
<div class="t" style="top:723.17px;font-size:7px;color:#6a6d73;right:537.5px;">110</div>
<div class="t" style="top:747.17px;font-size:7px;color:#6a6d73;right:537.5px;">0</div>
<div class="t b" style="top:674.08px;font-size:15.5px;color:#15181d;letter-spacing:-0.388px;left:250.125px;transform-origin:0 50%;transform:scaleX(0.9878);">Energy Balance</div>
<div class="t" style="top:713.78px;font-size:9px;color:#767f88;letter-spacing:-0.225px;left:253.55px;transform-origin:0 50%;transform:scaleX(0.9515);"><span style="color:#6ea6cc">Saiml</span> :ctnpacdont</div>
<div class="t" style="top:713.78px;font-size:9px;color:#72767c;letter-spacing:0.202px;left:376.75px;">Saint &amp;coaatt</div>
<div class="t" style="top:713.78px;font-size:9px;color:#72767c;letter-spacing:-0.025px;left:486.65px;">Saoinl auuoon</div>
<div class="t m1" style="top:749.27px;font-size:11.5px;color:#414e58;letter-spacing:-0.288px;left:253.825px;transform-origin:0 50%;transform:scaleX(0.9838);">Grid Gleaption</div>
<div class="t m1" style="top:749.27px;font-size:11.5px;color:#414e58;letter-spacing:-0.184px;left:379.025px;">Grid Enport</div>
<div class="t m1" style="top:749.27px;font-size:11.5px;color:#414e58;letter-spacing:-0.288px;left:483.225px;transform-origin:0 50%;transform:scaleX(0.9427);"><span style="color:#5fae9a">G</span>Grid Gnfiaimport:</div>
<div class="t b" style="top:674.28px;font-size:15.5px;color:#15181d;letter-spacing:-0.345px;left:641.325px;">Monthly Output</div>
<div class="t b" style="top:718.04px;font-size:33.5px;color:#15181d;letter-spacing:-0.519px;left:640.925px;">1.02</div>
<div class="t" style="top:732.01px;font-size:17px;color:#15181d;letter-spacing:0.587px;left:710.15px;">MWh</div>
</body>
</html>
